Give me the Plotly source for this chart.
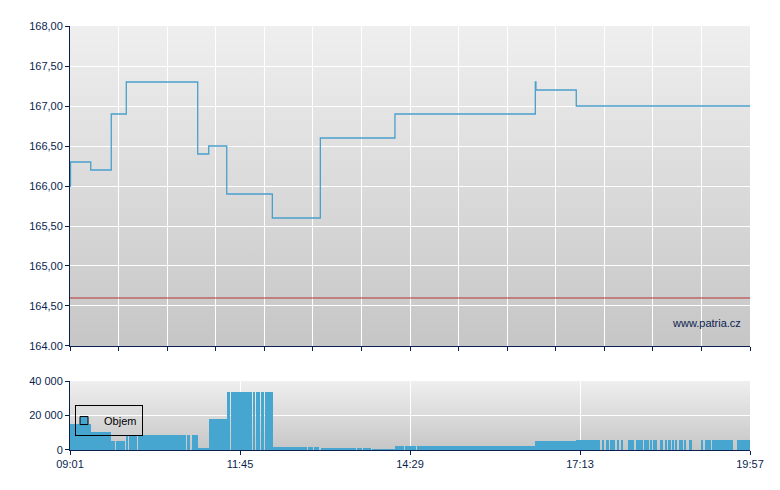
import base64
import pandas as pd
import plotly.graph_objects as go

DAY = "2024-03-15"

# --- price (top chart) ---
price_time = ["09:01:00", "09:01:30", "09:21:00", "09:40:48", "09:55:18", "11:04:12",
              "11:14:48", "11:32:12", "12:16:12", "13:02:30", "14:14:30", "16:29:54",
              "16:30:30", "17:09:24", "19:57:00"]
price_value = [166.0, 166.3, 166.2, 166.9, 167.3, 166.4, 166.5, 165.9, 165.6, 166.6,
               166.9, 167.3, 167.2, 167.0, 167.0]
prev_close = 164.6

# --- volume (bottom chart) ---
vol_start = ["09:01:00", "09:21:00", "09:41:00", "09:45:00", "09:55:00", "09:58:00",
             "10:01:00", "10:06:40", "10:54:00", "10:58:20", "11:04:12", "11:15:00",
             "11:32:40", "11:36:20", "11:57:50", "12:00:40", "12:05:20", "12:09:10",
             "12:16:50", "12:50:20", "12:56:20", "13:02:50", "13:37:40", "13:43:20",
             "13:52:20", "14:14:30", "14:24:30", "14:35:50", "16:29:40", "17:09:10",
             "17:35:00", "17:38:00", "17:42:00", "17:48:30", "17:52:20", "17:59:00",
             "18:03:00", "18:06:40", "18:14:30", "18:20:50", "18:23:40", "18:30:10",
             "18:35:20", "18:38:40", "18:41:50", "18:45:00", "18:48:10", "18:51:20",
             "18:54:00", "18:58:20", "19:09:20", "19:13:20", "19:20:20", "19:44:10"]
vol_end = ["09:21:00", "09:41:00", "09:44:00", "09:54:00", "09:57:00", "10:00:30",
           "10:05:20", "10:52:40", "10:56:50", "11:04:12", "11:15:00", "11:32:12",
           "11:35:20", "11:56:50", "11:59:30", "12:04:20", "12:08:10", "12:16:50",
           "12:49:20", "12:55:20", "13:01:10", "13:36:40", "13:42:20", "13:51:20",
           "14:14:30", "14:23:10", "14:34:30", "16:29:40", "17:09:10", "17:32:20",
           "17:36:30", "17:41:00", "17:47:00", "17:51:00", "17:54:50", "18:02:10",
           "18:04:50", "18:13:30", "18:19:30", "18:22:50", "18:27:00", "18:33:20",
           "18:37:10", "18:40:30", "18:43:40", "18:47:00", "18:50:10", "18:52:40",
           "18:55:20", "19:01:10", "19:11:50", "19:19:10", "19:40:50", "19:57:00"]
vol_value = [15000, 10600, 5400, 5400, 8700, 8700, 8700, 8700, 8700, 8700, 1200, 18000,
             33600, 33600, 33600, 33600, 33600, 33600, 1900, 1900, 1900, 750, 750, 750,
             550, 2300, 2300, 2300, 5400, 6000, 6000, 6000, 6000, 6000, 6000, 6000,
             6000, 6000, 6000, 6000, 6000, 6000, 6000, 6000, 6000, 6000, 6000, 6000,
             6000, 6000, 6000, 6000, 6000, 6000]

# --- axes ---
price_ticks = [164, 164.5, 165, 165.5, 166, 166.5, 167, 167.5, 168]
price_tick_text = ["164.00", "164,50", "165,00", "165,50", "166,00", "166,50",
                   "167,00", "167,50", "168,00"]
vol_ticks = [0, 20000, 40000]
vol_tick_text = ["0", "20 000", "40 000"]
time_ticks = ["09:01", "11:45", "14:29", "17:13", "19:57"]

NAVY = "#0b1f4f"
BAR = "#47a6cf"
LINE = "#4a9fcb"


def ts(t):
    return pd.Timestamp(f"{DAY} {t}")


px_t = [ts(t) for t in price_time]
vs = [ts(t) for t in vol_start]
ve = [ts(t) for t in vol_end]
widths = [(b - a).total_seconds() * 1000 for a, b in zip(vs, ve)]
t0, t1 = ts(time_ticks[0]), ts(time_ticks[-1])
top_dtick = (t1 - t0).total_seconds() * 1000 / 14

fig = go.Figure()
fig.add_trace(go.Scatter(x=px_t, y=price_value, mode="lines", line=dict(shape="hv", color=LINE, width=1.3),
                         showlegend=False, xaxis="x", yaxis="y"))
fig.add_trace(go.Bar(x=vs, y=vol_value, width=widths, offset=0, marker=dict(color=BAR, line=dict(width=0)),
                     showlegend=False, xaxis="x2", yaxis="y2"))
fig.add_trace(go.Scatter(x=[None], y=[None], mode="markers", name="Objem",
                         marker=dict(symbol="square", size=8, color=BAR, line=dict(color="black", width=1)),
                         xaxis="x2", yaxis="y2"))

svg = ('<svg xmlns="http://www.w3.org/2000/svg" width="10" height="100" preserveAspectRatio="none">'
       '<defs><linearGradient id="g" x1="0" y1="0" x2="0" y2="1">'
       '<stop offset="0" stop-color="#efefef"/><stop offset="1" stop-color="#c6c6c6"/>'
       '</linearGradient></defs><rect width="10" height="100" fill="url(#g)"/></svg>')
uri = "data:image/svg+xml;base64," + base64.b64encode(svg.encode()).decode()

FONT = "Liberation Sans, Arial, sans-serif"
tickfont = dict(family=FONT, size=11, color=NAVY)
common_x = dict(type="date", range=[t0, t1], showgrid=True, gridcolor="white", gridwidth=1,
                showline=True, linecolor=NAVY, linewidth=1, ticks="outside", ticklen=4,
                tickcolor=NAVY, zeroline=False, tickfont=tickfont, tick0=t0)
common_y = dict(showgrid=True, gridcolor="white", gridwidth=1, showline=True, linecolor=NAVY,
                linewidth=1, ticks="outside", ticklen=4, tickcolor=NAVY, zeroline=False, tickfont=tickfont)

fig.update_layout(
    width=772, height=482,
    margin=dict(l=62, r=30, t=18, b=40),
    paper_bgcolor="white", plot_bgcolor="#dddddd",
    bargap=0,
    xaxis=dict(common_x, domain=[0, 1], dtick=top_dtick, showticklabels=False, anchor="y"),
    yaxis=dict(common_y, domain=[0.2453, 1], range=[164, 168], tickvals=price_ticks,
               ticktext=price_tick_text, anchor="x"),
    xaxis2=dict(common_x, domain=[0, 1], tickvals=[ts(t) for t in time_ticks], ticktext=time_ticks,
                anchor="y2"),
    yaxis2=dict(common_y, domain=[0, 0.1627], range=[0, 40000], tickvals=vol_ticks,
                ticktext=vol_tick_text, anchor="x2"),
    images=[dict(source=uri, xref="x domain", yref="y domain", x=0, y=1, sizex=1, sizey=1,
                 xanchor="left", yanchor="top", sizing="stretch", layer="below"),
            dict(source=uri, xref="x2 domain", yref="y2 domain", x=0, y=1, sizex=1, sizey=1,
                 xanchor="left", yanchor="top", sizing="stretch", layer="below")],
    shapes=[dict(type="line", xref="x domain", yref="y", x0=0, x1=1, y0=prev_close, y1=prev_close,
                 line=dict(color="#b83232", width=1), layer="above")],
    annotations=[dict(text="www.patria.cz", xref="x domain", yref="y domain", x=0.99, y=0.072,
                      xanchor="right", yanchor="middle", showarrow=False,
                      font=dict(family=FONT, size=11, color=NAVY))],
    legend=dict(x=0.0074, y=0.106, xanchor="left", yanchor="top", bordercolor="black", borderwidth=1,
                bgcolor="rgba(0,0,0,0)", itemwidth=30, indentation=-12,
                font=dict(family=FONT, size=11, color="black")),
    showlegend=True,
)

fig.write_html("out.html")
